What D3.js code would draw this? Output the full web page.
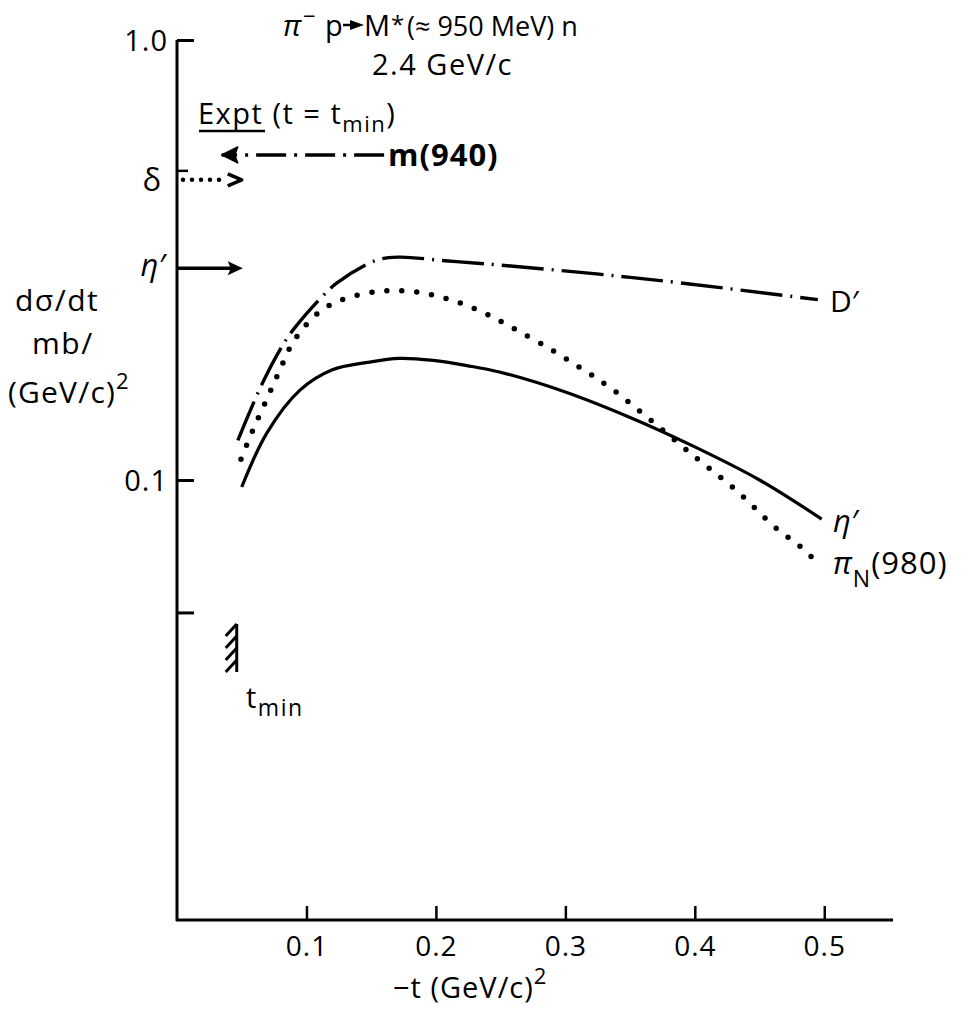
<!DOCTYPE html>
<html><head><meta charset="utf-8">
<script src="https://cdn.jsdelivr.net/npm/d3@7"></script>
<style>
body{margin:0;background:#fff;}
text{font-family:"Open Sans","DejaVu Sans",sans-serif;fill:#000;}
</style></head>
<body><svg id="c" width="969" height="1014"></svg>
<script>
// ---- data ----
const xTicks = [0.1, 0.2, 0.3, 0.4, 0.5];
const xTickLabels = ["0.1", "0.2", "0.3", "0.4", "0.5"];
const yTicks = [1.0, 0.1, 0.05];
const yTickLabels = ["1.0", "0.1", ""];

// eta' (solid)
const etaT = [0.050, 0.0695, 0.095, 0.120, 0.147, 0.172, 0.198, 0.224, 0.249, 0.300, 0.350, 0.400, 0.450, 0.498];
const etaV = [0.0964, 0.128, 0.160, 0.178, 0.185, 0.189, 0.187, 0.182, 0.176, 0.1585, 0.1387, 0.1189, 0.100, 0.0815];
// pi_N(980) (dotted)
const piT = [0.0494, 0.0587, 0.0695, 0.0788, 0.0903, 0.110, 0.131, 0.160, 0.185, 0.211, 0.2355, 0.2595, 0.2896, 0.314, 0.336, 0.3676, 0.4015, 0.4317, 0.4618, 0.481, 0.4965];
const piV = [0.1115, 0.130, 0.153, 0.176, 0.207, 0.241, 0.259, 0.269, 0.2675, 0.257, 0.241, 0.2215, 0.1974, 0.178, 0.161, 0.1355, 0.112, 0.0949, 0.0782, 0.0708, 0.0641];
// D' (dash-dot)
const dT = [0.047, 0.0656, 0.0819, 0.0903, 0.111, 0.1236, 0.153, 0.1707, 0.207, 0.249, 0.324, 0.389, 0.495];
const dV = [0.123, 0.165, 0.203, 0.2205, 0.259, 0.2805, 0.315, 0.321, 0.315, 0.308, 0.294, 0.2805, 0.257];

// experimental levels at t = t_min
const tMin = 0.05;
const exptEta = 0.303;
const exptDelta = 0.481;
const exptM = 0.548;
const mArrowStart = 0.16;

// ---- scales ----
const svg = d3.select("#c");
const x = d3.scaleLinear().domain([0, 0.55]).range([177, 889]);
const y = d3.scaleLog().domain([0.01, 1]).range([920, 40]);

// axes
const yAxis = d3.axisLeft(y).tickValues(yTicks).tickFormat((d,i)=>yTickLabels[i]).tickSizeInner(-17).tickSizeOuter(0).tickPadding(30);
const gy = svg.append("g").attr("transform","translate(177,0)").call(yAxis);
gy.select(".domain").attr("stroke-width",3).attr("d","M0,40V921");
gy.selectAll(".tick line").attr("stroke-width",3);
gy.selectAll(".tick text").attr("font-size",29).attr("dx",21).attr("dy","0.36em").attr("letter-spacing",1);

const xAxis = d3.axisBottom(x).tickValues(xTicks).tickFormat((d,i)=>xTickLabels[i]).tickSizeInner(-14).tickSizeOuter(0).tickPadding(30);
const gx = svg.append("g").attr("transform","translate(0,920)").call(xAxis);
gx.select(".domain").attr("stroke-width",3).attr("d","M176,0H893");
gx.selectAll(".tick line").attr("stroke-width",2.5);
gx.selectAll(".tick text").attr("font-size",28).attr("dy","0.2em").attr("letter-spacing",1);

// curves
const line = d3.line().x(d=>x(d[0])).y(d=>y(d[1])).curve(d3.curveCatmullRom.alpha(0.5));
svg.append("path").datum(etaT.map((t,i)=>[t,etaV[i]])).attr("d",line)
  .attr("fill","none").attr("stroke","#000").attr("stroke-width",3.2);
svg.append("path").datum(piT.map((t,i)=>[t,piV[i]])).attr("d",line)
  .attr("fill","none").attr("stroke","#000").attr("stroke-width",5.5)
  .attr("stroke-linecap","round").attr("stroke-dasharray","0 15");
svg.append("path").datum(dT.map((t,i)=>[t,dV[i]])).attr("d",line)
  .attr("fill","none").attr("stroke","#000").attr("stroke-width",3.4)
  .attr("stroke-dasharray","42 8 2 8");

// ---- annotations ----
// eta' arrow (solid, filled head)
const ye = y(exptEta);
svg.append("line").attr("x1",x(0)).attr("x2",x(tMin)-10).attr("y1",ye).attr("y2",ye).attr("stroke","#000").attr("stroke-width",3.5);
svg.append("path").attr("d",`M${x(tMin)+1},${ye}L${x(tMin)-14},${ye-7}L${x(tMin)-11},${ye}L${x(tMin)-14},${ye+7}Z`).attr("fill","#000");
svg.append("text").attr("x",165).attr("y",ye+8).attr("text-anchor","end").attr("font-size",31).attr("font-style","italic").text("η′");

// delta arrow (dotted, open head)
const yd = y(exptDelta);
svg.append("line").attr("x1",x(0)).attr("x2",x(0)+11).attr("y1",yd-9).attr("y2",yd-9).attr("stroke","#000").attr("stroke-width",2.5);
svg.append("line").attr("x1",x(0)+6).attr("x2",x(tMin)-20).attr("y1",yd).attr("y2",yd).attr("stroke","#000").attr("stroke-width",4.5)
  .attr("stroke-linecap","round").attr("stroke-dasharray","0 9");
svg.append("path").attr("d",`M${x(tMin)-14},${yd-6}L${x(tMin)},${yd}L${x(tMin)-14},${yd+6}`).attr("fill","none").attr("stroke","#000").attr("stroke-width",3.5).attr("stroke-linejoin","round");
svg.append("text").attr("x",161).attr("y",yd+11).attr("text-anchor","end").attr("font-size",31).text("δ");

// m(940) arrow (dash-dot, pointing left)
const ym = y(exptM);
svg.append("line").attr("x1",x(mArrowStart)).attr("x2",x(tMin)-20).attr("y1",ym).attr("y2",ym).attr("stroke","#000").attr("stroke-width",3.5)
  .attr("stroke-dasharray","30 8 3 8");
svg.append("path").attr("d",`M${x(tMin)-20},${ym}L${x(tMin)-4},${ym-8}L${x(tMin)-7},${ym}L${x(tMin)-4},${ym+8}Z`).attr("fill","#000").attr("stroke","#000").attr("stroke-width",1.5).attr("stroke-linejoin","round");
svg.append("text").attr("x",388).attr("y",ym+11).attr("font-size",31).attr("font-weight","bold").attr("font-family","DejaVu Sans").attr("letter-spacing","1").text("m(940)");

// Expt label
const ex = svg.append("text").attr("x",198).attr("y",124).attr("font-size",29).attr("letter-spacing",1.5);
ex.append("tspan").text("Expt");
ex.append("tspan").text(" (t = t");
ex.append("tspan").attr("font-size",22).attr("dy",8).text("min");
ex.append("tspan").attr("dy",-8).text(")");
svg.append("line").attr("x1",199).attr("x2",265).attr("y1",131).attr("y2",131).attr("stroke","#000").attr("stroke-width",2.5);

// title
const ty = 36;
svg.append("text").attr("x",283).attr("y",ty).attr("font-size",30).attr("font-style","italic").text("π");
svg.append("text").attr("x",303).attr("y",ty-12).attr("font-size",22).text("−");
svg.append("text").attr("x",325).attr("y",ty).attr("font-size",29).text("p");
svg.append("path").attr("d",`M343,${ty-11}H352`).attr("stroke","#000").attr("stroke-width",2.5);
svg.append("path").attr("d",`M350,${ty-16}L364,${ty-11}L350,${ty-6}Z`).attr("fill","#000");
svg.append("text").attr("x",364).attr("y",ty).attr("font-size",29).text("M");
svg.append("text").attr("x",391).attr("y",ty-3).attr("font-size",24).text("*");
svg.append("text").attr("x",407).attr("y",ty).attr("font-size",27).text("(≈ 950 MeV) n");
svg.append("text").attr("x",372).attr("y",75).attr("font-size",29).attr("letter-spacing",1.5).text("2.4 GeV/c");

// y label
svg.append("text").attr("x",15).attr("y",311).attr("font-size",30).attr("letter-spacing",1.5).text("dσ/dt");
svg.append("text").attr("x",32).attr("y",354).attr("font-size",30).attr("letter-spacing",1.5).text("mb/");
const yl = svg.append("text").attr("x",8).attr("y",403).attr("font-size",30).attr("letter-spacing",1.2);
yl.append("tspan").text("(GeV/c)");
yl.append("tspan").attr("font-size",22).attr("dy",-14).text("2");

// x label
const xl = svg.append("text").attr("x",393).attr("y",998).attr("font-size",29).attr("letter-spacing",1);
xl.append("tspan").text("−t (GeV/c)");
xl.append("tspan").attr("font-size",22).attr("dy",-14).text("2");

// curve labels
svg.append("text").attr("x",830).attr("y",312).attr("font-size",30).text("D′");
svg.append("text").attr("x",833).attr("y",532).attr("font-size",31).attr("font-style","italic").text("η′");
const pl = svg.append("text").attr("x",833).attr("y",574).attr("font-size",31).attr("letter-spacing",1);
pl.append("tspan").attr("font-style","italic").text("π");
pl.append("tspan").attr("font-size",23).attr("dy",13).text("N");
pl.append("tspan").attr("dy",-13).text("(980)");

// t_min marker
const xm = x(tMin) - 5;
const hatch = svg.append("g").attr("stroke","#000").attr("stroke-width",3);
hatch.append("line").attr("x1",xm).attr("x2",xm).attr("y1",624).attr("y2",672);
[630, 642, 654, 666].forEach(v=>{
  hatch.append("line").attr("x1",xm).attr("x2",xm-11).attr("y1",v-6).attr("y2",v+6);
});
const tm = svg.append("text").attr("x",246).attr("y",708).attr("font-size",29).attr("letter-spacing",1.5);
tm.append("tspan").text("t");
tm.append("tspan").attr("font-size",23).attr("dy",8).text("min");
</script></body></html>
